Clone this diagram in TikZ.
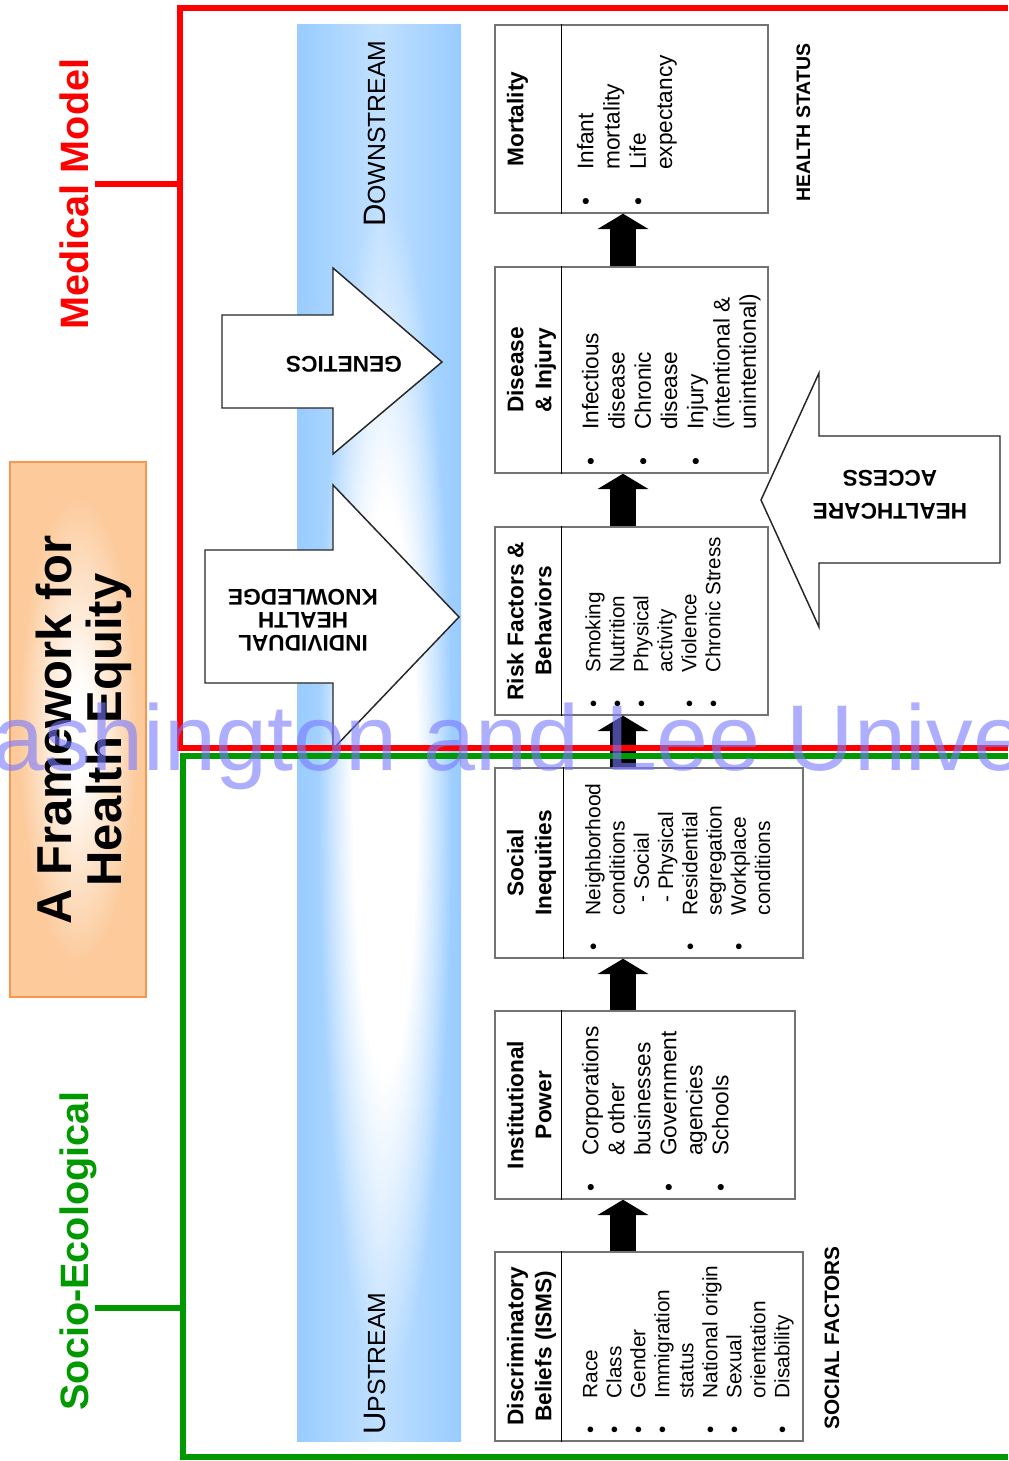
\documentclass[tikz,border=0pt]{standalone}
\usepackage{fontspec}
\setmainfont{Liberation Sans}
\usetikzlibrary{arrows.meta,fit,calc,fadings}
\definecolor{mred}{RGB}{255,0,0}
\definecolor{mgreen}{RGB}{0,153,0}
\definecolor{bandblue}{RGB}{153,204,255}
\definecolor{bandlight}{RGB}{192,224,255}
\definecolor{orfill}{RGB}{252,202,155}
\definecolor{ordraw}{RGB}{250,150,80}
\definecolor{wmark}{RGB}{120,120,255}
\pgfdeclareradialshading{ellsh}{\pgfpointorigin}{color(0bp)=(white); color(12bp)=(white); color(25bp)=(black); color(50bp)=(black)}
\begin{tikzfadingfrompicture}[name=ellfade]
  \shade[shading=ellsh] (-25bp,-25bp) rectangle (25bp,25bp);
\end{tikzfadingfrompicture}
\pgfdeclareradialshading{titlesh}{\pgfpointorigin}{color(0bp)=(white); color(4bp)=(white); color(22bp)=(orfill); color(50bp)=(orfill)}
\begin{document}
\begin{tikzpicture}[x=0.75pt,y=-0.75pt,
  boxst/.style={draw=black!55, line width=1.1pt, fill=white, inner sep=0pt},
  divst/.style={draw=black, line width=0.8pt},
  ttl/.style={rotate=90, anchor=north, inner sep=0pt, align=center, font=\bfseries\fontsize{17}{21}\selectfont},
  bul/.style={rotate=90, anchor=north west, inner sep=0pt},
  bigarr/.style={draw=black!85, line width=1.1pt, fill=white, line join=miter},
  arrtxt/.style={rotate=180, inner sep=0pt, align=center, font=\bfseries\fontsize{17}{17.25}\selectfont},
  blkarr/.style={draw=black, line width=19.5pt, -{Triangle[width=38.25pt,length=11.5pt,line width=0pt]}},
  redline/.style={draw=mred, line width=4.5pt},
  greenline/.style={draw=mgreen, line width=4.5pt},
  sidelbl/.style={rotate=90, anchor=base, inner sep=0pt, font=\bfseries\fontsize{29.7}{30}\selectfont},
  statlbl/.style={rotate=90, anchor=base west, inner sep=0pt},
  streamlbl/.style={rotate=90, anchor=base west, inner sep=0pt}
]
\useasboundingbox (0,0) rectangle (1008,1461);
\fill[white] (0,0) rectangle (1008,1461);

% ---- blue band ----
\fill[left color=bandblue, right color=bandblue, middle color=bandlight] (297,24) rectangle (461,1441);
\fill[white, path fading=ellfade, fit fading=true] (318,200) rectangle (452,1380);
\node[streamlbl] (down) at (385,227) {{\fontsize{23.25}{24}\selectfont D}{\fontsize{18.6}{20}\selectfont OWNSTREAM}};
\node[streamlbl] (up) at (385,1435) {{\fontsize{23.25}{24}\selectfont U}{\fontsize{18.6}{20}\selectfont PSTREAM}};

% ---- big arrows ----
\path[bigarr] (222,315) -- (333,315) -- (333,268) -- (442,362) -- (333,454) -- (333,408) -- (222,408) -- cycle;
\node[arrtxt] (gen) at (344,364) {GENETICS};
\path[bigarr] (205,550) -- (333,550) -- (333,485) -- (459,617) -- (333,749) -- (333,683) -- (205,683) -- cycle;
\node[arrtxt] (ihk) at (303,620) {INDIVIDUAL\\HEALTH\\KNOWLEDGE};
\path[bigarr] (1000,436) -- (819,436) -- (819,373) -- (761,500) -- (819,627) -- (819,563) -- (1000,563) -- cycle;
\node[arrtxt, font=\bfseries\fontsize{17}{24.75}\selectfont] (hca) at (890,494.5) {HEALTHCARE\\ACCESS};

% ---- boxes ----
\node[boxst, fit={(495,25) (768,213)}] (mort) {};
\node[boxst, fit={(495,267) (768,473)}] (dis) {};
\node[boxst, fit={(495,527) (768,715)}] (risk) {};
\node[boxst, fit={(495,768) (803,958)}] (soc) {};
\node[boxst, fit={(495,1011) (795,1199)}] (inst) {};
\node[boxst, fit={(495,1252) (803,1441)}] (disc) {};
\foreach \b/\d in {mort/67,dis/67,risk/67,soc/69,inst/67,disc/67}
  \draw[divst] ($(\b.north west)+(\d,0)$) -- ($(\b.south west)+(\d,0)$);

\node[ttl] (mortt) at (503.4,119) {\strut Mortality};
\node[ttl] (dist) at (503.4,370) {\strut Disease\\\& Injury};
\node[ttl] (riskt) at (503.4,621) {\strut Risk Factors \&\\Behaviors};
\node[ttl] (soct) at (503.4,863) {\strut Social\\Inequities};
\node[ttl] (instt) at (503.4,1105) {\strut Institutional\\Power};
\node[ttl] (disct) at (503.4,1346) {\strut Discriminatory\\Beliefs (ISMS)};

\node[bul, font=\fontsize{17}{19.7}\selectfont] (mortl) at (574.6,206) {\begin{tabular}{@{}l@{\hspace{21pt}}l@{}}
\textbullet & Infant\\ & mortality\\ \textbullet & Life\\ & expectancy\end{tabular}};
\node[bul, font=\fontsize{17}{19.7}\selectfont] (disl) at (579.6,466) {\begin{tabular}{@{}l@{\hspace{21pt}}l@{}}
\textbullet & Infectious\\ & disease\\ \textbullet & Chronic\\ & disease\\ \textbullet & Injury\\ & (intentional \&\\ & unintentional)\end{tabular}};
\node[bul, font=\fontsize{15.5}{18}\selectfont] (riskl) at (583.2,708) {\begin{tabular}{@{}l@{\hspace{21pt}}l@{}}
\textbullet & Smoking\\ \textbullet & Nutrition\\ \textbullet & Physical\\ & activity\\ \textbullet & Violence\\ \textbullet & Chronic Stress\end{tabular}};
\node[bul, font=\fontsize{15.75}{18.2}\selectfont] (socl) at (583,951) {\begin{tabular}{@{}l@{\hspace{21pt}}l@{}}
\textbullet & Neighborhood\\ & conditions\\ & \hspace{9.5pt}- Social\\ & \hspace{9.5pt}- Physical\\ \textbullet & Residential\\ & segregation\\ \textbullet & Workplace\\ & conditions\end{tabular}};
\node[bul, font=\fontsize{17}{19.5}\selectfont] (instl) at (579.8,1192) {\begin{tabular}{@{}l@{\hspace{21pt}}l@{}}
\textbullet & Corporations\\ & \& other\\ & businesses\\ \textbullet & Government\\ & agencies\\ \textbullet & Schools\end{tabular}};
\node[bul, font=\fontsize{15.6}{18}\selectfont] (discl) at (580.2,1434) {\begin{tabular}{@{}l@{\hspace{21pt}}l@{}}
\textbullet & Race\\ \textbullet & Class\\ \textbullet & Gender\\ \textbullet & Immigration\\ & status\\ \textbullet & National origin\\ \textbullet & Sexual\\ & orientation\\ \textbullet & Disability\end{tabular}};

\node[statlbl, font=\bfseries\fontsize{14.6}{15}\selectfont] (hstat) at (810,202) {HEALTH STATUS};
\node[statlbl, font=\bfseries\fontsize{15.6}{16}\selectfont] (sfact) at (839,1430) {SOCIAL FACTORS};

% ---- black arrows ----
\coordinate (ax) at (623,0);
\draw[blkarr] (ax |- dis.north) -- (ax |- mort.south);
\draw[blkarr] (ax |- risk.north) -- (ax |- dis.south);
\draw[blkarr] (ax |- soc.north) -- (ax |- risk.south);
\draw[blkarr] (ax |- inst.north) -- (ax |- soc.south);
\draw[blkarr] (ax |- disc.north) -- (ax |- inst.south);

% ---- frames ----
\coordinate (rA) at (1008,8);
\coordinate (rB) at (179.5,8);
\coordinate (rC) at (179.5,748);
\coordinate (rD) at (1008,748);
\coordinate (rJ) at (179.5,184);
\coordinate (rK) at (95,184);
\coordinate (gA) at (1008,756);
\coordinate (gB) at (182.5,756);
\coordinate (gC) at (182.5,1457);
\coordinate (gD) at (1008,1457);
\coordinate (gJ) at (182.5,1308);
\coordinate (gK) at (95,1308);
\draw[redline] (rA) -- (rB) -- (rC) -- (rD);
\draw[redline] (rK) -- (rJ);
\draw[greenline] (gA) -- (gB) -- (gC) -- (gD);
\draw[greenline] (gK) -- (gJ);

% ---- left labels ----
\node[sidelbl, text=mred] (medlbl) at (88,194) {Medical Model};
\node[sidelbl, text=mgreen] (soclbl) at (88,1251) {Socio-Ecological};
\path[shading=titlesh, draw=ordraw, line width=1.2pt] (10,462) rectangle (146,997);
\node[rotate=90, inner sep=0pt, align=center, font=\bfseries\fontsize{36.75}{37.5}\selectfont] (title) at (84,730) {A Framework for\\Health Equity};

% ---- watermark ----
\begin{scope}
\clip (0,0) rectangle (1008,1461);
\node[anchor=base west, inner sep=0pt, text=wmark, text opacity=0.6, font=\fontsize{70}{70}\selectfont] (wm) at (-92,770) {Washington and Lee University};
\end{scope}
\end{tikzpicture}
\end{document}
